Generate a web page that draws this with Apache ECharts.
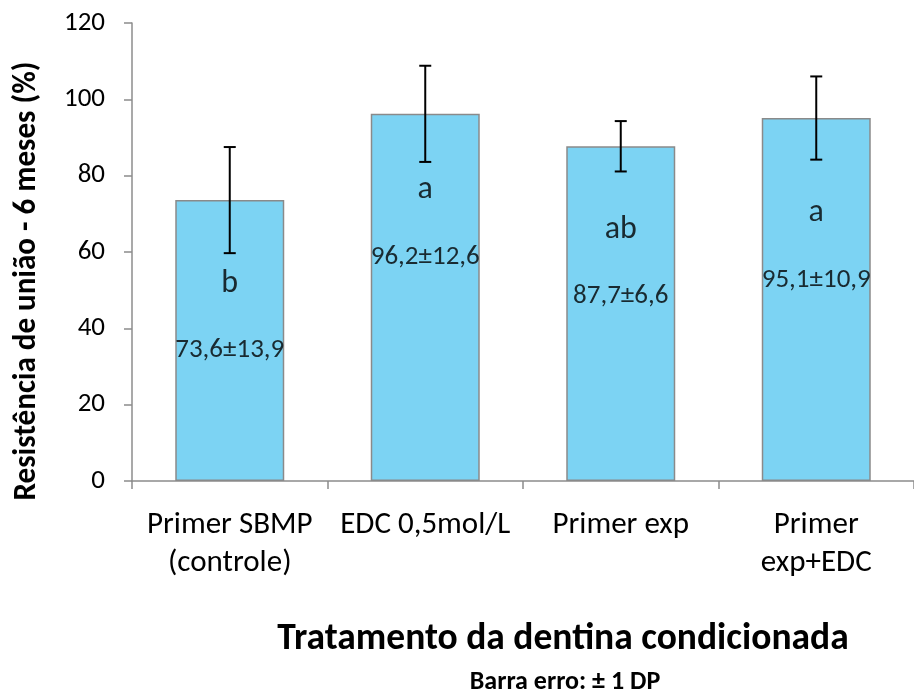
<!DOCTYPE html>
<html><head><meta charset="utf-8">
<script src="https://cdn.jsdelivr.net/npm/echarts@6/dist/echarts.min.js"></script>
<style>html,body{margin:0;padding:0;background:#fff}#c{width:914px;height:693px}</style>
</head><body><div id="c"></div>
<script>
const categories = ['Primer SBMP\n(controle)', 'EDC 0,5mol/L', 'Primer exp', 'Primer\nexp+EDC'];
const means = [73.6, 96.2, 87.7, 95.1];
const sds = [13.9, 12.6, 6.6, 10.9];
const letters = ['b', 'a', 'ab', 'a'];
const letterY = [51.6, 76.2, 65.8, 70.2];
const valueLabels = ['73,6±13,9', '96,2±12,6', '87,7±6,6', '95,1±10,9'];
const valueLabelY = [34.3, 58.7, 48.3, 52.7];
const yTicks = {min: 0, max: 120, interval: 20};

const FONT = 'Carlito, "Open Sans", sans-serif';
const chart = echarts.init(document.getElementById('c'), null, {renderer: 'canvas'});
chart.setOption({
  animation: false,
  grid: {left: 132, right: -6, top: 23, bottom: 212, containLabel: false},
  xAxis: {
    type: 'category', data: categories,
    axisLine: {lineStyle: {color: '#8c8c8c', width: 1.5}},
    axisTick: {show: true, length: 8, lineStyle: {color: '#8c8c8c', width: 1.5}},
    axisLabel: {color: '#000', fontSize: 31, fontFamily: FONT, margin: 25, lineHeight: 38, interval: 0}
  },
  yAxis: {
    type: 'value', min: yTicks.min, max: yTicks.max, interval: yTicks.interval,
    axisLine: {show: true, lineStyle: {color: '#8c8c8c', width: 1.5}},
    axisTick: {show: true, length: 8, lineStyle: {color: '#8c8c8c', width: 1.5}},
    splitLine: {show: false},
    axisLabel: {color: '#000', fontSize: 27, fontFamily: FONT, margin: 27}
  },
  graphic: [
    {type: 'text', x: 27, y: 281, rotation: Math.PI / 2, scaleX: 0.94,
     style: {text: 'Resistência de união - 6 meses (%)', fontSize: 33, fontWeight: 'bold', fontFamily: FONT, fill: '#000', align: 'center', verticalAlign: 'middle'}},
    {type: 'text', x: 563, y: 640, style: {text: 'Tratamento da dentina condicionada', fontSize: 37.5, fontWeight: 'bold', fontFamily: FONT, fill: '#000', align: 'center', verticalAlign: 'middle'}},
    {type: 'text', x: 565, y: 682, style: {text: 'Barra erro: ± 1 DP', fontSize: 26, fontWeight: 'bold', fontFamily: FONT, fill: '#000', align: 'center', verticalAlign: 'middle'}}
  ],
  series: [
    {
      type: 'bar', data: means, barWidth: 109,
      itemStyle: {color: '#7cd3f3', borderColor: '#8a8a8a', borderWidth: 1.5}
    },
    {
      type: 'custom',
      data: means.map((m, i) => [i, m - sds[i], m + sds[i]]),
      renderItem: function (params, api) {
        const x = api.value(0);
        const lo = api.coord([x, api.value(1)]);
        const hi = api.coord([x, api.value(2)]);
        const w = 6;
        const st = {stroke: '#000', lineWidth: 2};
        return {type: 'group', children: [
          {type: 'line', shape: {x1: lo[0], y1: lo[1], x2: hi[0], y2: hi[1]}, style: st},
          {type: 'line', shape: {x1: lo[0] - w, y1: lo[1], x2: lo[0] + w, y2: lo[1]}, style: st},
          {type: 'line', shape: {x1: hi[0] - w, y1: hi[1], x2: hi[0] + w, y2: hi[1]}, style: st}
        ]};
      },
      z: 5
    },
    {
      type: 'scatter', symbolSize: 0,
      data: letters.map((t, i) => [i, letterY[i]]),
      label: {show: true, position: 'inside', formatter: p => letters[p.dataIndex], color: '#000', fontSize: 32, fontFamily: FONT},
      z: 6
    },
    {
      type: 'scatter', symbolSize: 0,
      data: valueLabels.map((t, i) => [i, valueLabelY[i]]),
      label: {show: true, position: 'inside', formatter: p => valueLabels[p.dataIndex], color: '#000', fontSize: 27, fontFamily: FONT},
      z: 6
    }
  ]
});
</script></body></html>
